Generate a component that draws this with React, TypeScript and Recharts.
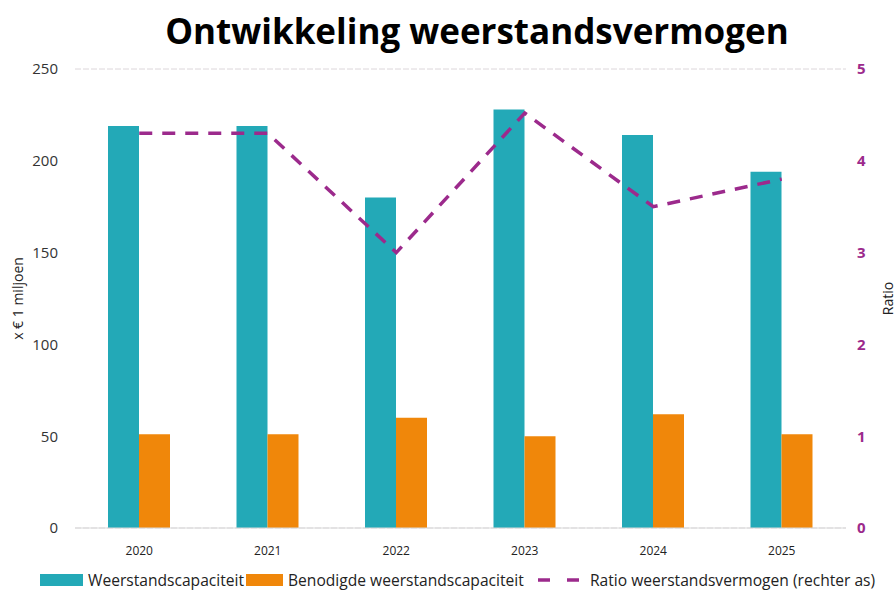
import { ComposedChart, Bar, Line, XAxis, YAxis, CartesianGrid } from "recharts";

const years = ["2020", "2021", "2022", "2023", "2024", "2025"];
const capaciteit = [219, 219, 180, 228, 214, 194];
const benodigd = [51, 51, 60, 50, 62, 51];
const ratio = [4.3, 4.3, 3.0, 4.52, 3.5, 3.8];
const leftTicks = [0, 50, 100, 150, 200, 250];
const rightTicks = [0, 1, 2, 3, 4, 5];

const TEAL = "#23A9B7";
const ORANGE = "#F0870A";
const PURPLE = "#9C2A8C";

const data = years.map((year, i) => ({
  year,
  capaciteit: capaciteit[i],
  benodigd: benodigd[i],
  ratio: ratio[i],
}));

const font = "Open Sans, Noto Sans, sans-serif";

// page has an 8px body margin by default; drop it so the chart fills the window
if (typeof document !== "undefined") document.body.style.margin = "0";

const abs = (left: number, extra = {}) => ({ position: "absolute" as const, left, top: 0, ...extra });

export default function App() {
  return (
    <div style={{ position: "relative", width: 896, height: 590, overflow: "hidden", fontFamily: font }}>
      <div
        style={{
          position: "absolute",
          left: 0,
          width: 954,
          top: 9,
          textAlign: "center",
          whiteSpace: "nowrap",
          fontSize: 35,
          lineHeight: "44px",
          fontWeight: 700,
          color: "#000",
        }}
      >
        Ontwikkeling weerstandsvermogen
      </div>
      <ComposedChart
        width={896}
        height={590}
        data={data}
        margin={{ top: 69, right: 0, left: 0, bottom: 32 }}
        barGap={0}
      >
        <CartesianGrid vertical={false} stroke="#dcd6da" strokeDasharray="6 2" />
        <XAxis
          dataKey="year"
          height={30}
          axisLine={{ stroke: "#d9d9d9" }}
          tickLine={false}
          tickMargin={12}
          tick={{ fontSize: 12, fill: "#222", fontFamily: font }}
        />
        <YAxis
          yAxisId="left"
          width={75}
          domain={[0, 250]}
          ticks={leftTicks}
          axisLine={false}
          tickLine={false}
          tickSize={0}
          tickMargin={17}
          tick={{ fontSize: 15, fill: "#333", fontFamily: font }}
          label={{
            value: "x € 1 miljoen",
            angle: -90,
            position: "insideLeft",
            offset: 18,
            style: { fontSize: 14, fill: "#222", textAnchor: "middle", fontFamily: font },
          }}
        />
        <YAxis
          yAxisId="right"
          orientation="right"
          width={50}
          domain={[0, 5]}
          ticks={rightTicks}
          axisLine={false}
          tickLine={false}
          tickSize={0}
          tickMargin={11}
          tick={{ fontSize: 15, fill: PURPLE, fontWeight: 700, fontFamily: font }}
          label={{
            value: "Ratio",
            angle: -90,
            position: "insideRight",
            offset: 8,
            style: { fontSize: 14, fill: "#222", textAnchor: "middle", fontFamily: font },
          }}
        />
        <Bar yAxisId="left" dataKey="capaciteit" fill={TEAL} barSize={31} isAnimationActive={false} />
        <Bar yAxisId="left" dataKey="benodigd" fill={ORANGE} barSize={31} isAnimationActive={false} />
        <Line
          yAxisId="right"
          dataKey="ratio"
          stroke={PURPLE}
          strokeWidth={3.5}
          strokeDasharray="13 10"
          dot={false}
          activeDot={false}
          type="linear"
          isAnimationActive={false}
        />
      </ComposedChart>
      <div
        style={{
          position: "absolute",
          left: 0,
          top: 571,
          width: 896,
          height: 18,
          fontSize: 15.6,
          lineHeight: "18px",
          color: "#222",
          whiteSpace: "nowrap",
        }}
      >
        <span style={abs(40, { top: 3, width: 43, height: 12, background: TEAL })} />
        <span style={abs(88)}>Weerstandscapaciteit</span>
        <span style={abs(246, { top: 3, width: 37, height: 12, background: ORANGE })} />
        <span style={abs(288)}>Benodigde weerstandscapaciteit</span>
        <svg width={46} height={12} style={abs(536, { top: 3 })}>
          <line x1={2} y1={6} x2={44} y2={6} stroke={PURPLE} strokeWidth={3.5} strokeDasharray="12 17" />
        </svg>
        <span style={abs(590)}>Ratio weerstandsvermogen (rechter as)</span>
      </div>
    </div>
  );
}
